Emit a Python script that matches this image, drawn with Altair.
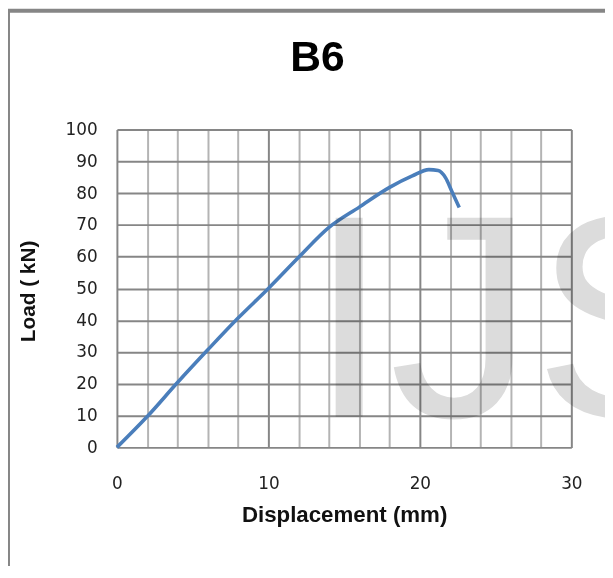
import altair as alt
import pandas as pd

# ---- chart text ----
title_text = "B6"
x_title = "Displacement (mm)"
y_title = "Load ( kN)"
watermark = "IJS"

# ---- series ----
displacement = [0, 2, 4, 6, 8, 10, 12, 14, 16, 18, 19.5, 20.6, 21.2, 21.7, 22.1, 22.6]
load = [0, 9.7, 20.4, 30.7, 40.7, 50.0, 59.8, 69.2, 75.6, 81.8, 85.4, 87.4, 87.1, 84.8, 80.7, 75.5]

# ---- ticks ----
x_ticks = list(range(0, 31, 2))
y_ticks = list(range(0, 101, 10))

df = pd.DataFrame({"d": displacement, "l": load})

W, H = 459, 321
PAD = {"left": 110, "top": 120, "right": 34, "bottom": 117}

DARK = "#868686"
LIGHT = "#b4b4b4"

x_axis = alt.Axis(
    values=x_ticks,
    labelExpr="datum.value % 10 === 0 ? datum.label : ''",
    labelOverlap=False,
    labelFlush=False,
    grid=True,
    gridColor=alt.condition("datum.value % 10 === 0", alt.value(DARK), alt.value(LIGHT)),
    gridWidth=2,
    ticks=False,
    domain=False,
    labelPadding=29,
    labelFont="DejaVu Sans",
    labelFontSize=17,
    labelColor="#222222",
    title=x_title,
    titleFont="Liberation Sans",
    titleFontSize=22.5,
    titleFontWeight="bold",
    titleColor="#111111",
    titleX=229.5,
    titleY=68,
    titleBaseline="middle",
    titleAlign="center",
)

y_axis = alt.Axis(
    values=y_ticks,
    labelOverlap=False,
    grid=True,
    gridColor=DARK,
    gridWidth=2,
    ticks=False,
    domain=False,
    labelPadding=20,
    labelFont="DejaVu Sans",
    labelFontSize=17,
    labelColor="#222222",
    title=y_title,
    titleFont="Liberation Sans",
    titleFontSize=21,
    titleFontWeight="bold",
    titleColor="#111111",
    titleAngle=270,
    titleX=-89,
    titleY=163,
    titleBaseline="middle",
    titleAlign="center",
)

one = pd.DataFrame({"k": [0]})

frame = alt.Chart(one).mark_rect(fill="white", fillOpacity=0, stroke=DARK, strokeWidth=4).encode(
    x=alt.value(-110), x2=alt.value(W + 300), y=alt.value(-120), y2=alt.value(H + 300)
)

line = alt.Chart(df).mark_line(color="#4a7ebb", strokeWidth=3.6, interpolate="monotone").encode(
    x=alt.X("d:Q", scale=alt.Scale(domain=[0, 30], nice=False), axis=x_axis),
    y=alt.Y("l:Q", scale=alt.Scale(domain=[0, 100], nice=False), axis=y_axis),
)

wm = alt.Chart(pd.DataFrame({"t": [watermark]})).mark_text(
    font="Liberation Sans", fontSize=292, color="#dcdcdc", blend="multiply",
    align="left", baseline="alphabetic",
).encode(text="t:N", x=alt.value(194), y=alt.value(290))

chart = alt.layer(frame, line, wm).properties(
    width=W,
    height=H,
    title=alt.TitleParams(
        title_text, font="Liberation Sans", fontSize=43, fontWeight="bold", color="black",
        anchor="middle", frame="group", dx=-27, offset=0, dy=106, baseline="alphabetic",
    ),
    autosize=alt.AutoSizeParams(type="none"),
    padding=PAD,
).configure_view(strokeOpacity=0)

chart.save("out.html", embed_options={"renderer": "svg", "actions": False})
